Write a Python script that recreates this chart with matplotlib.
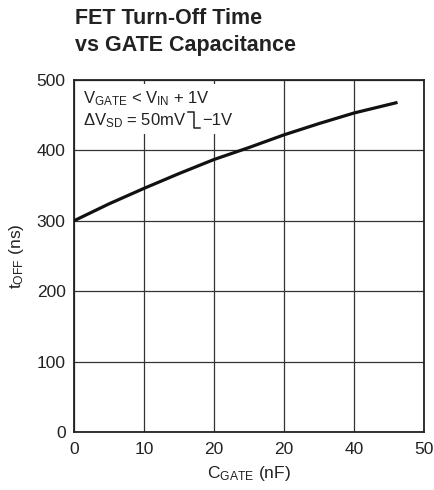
import matplotlib
matplotlib.use('Agg')
import matplotlib.pyplot as plt
from matplotlib.patches import Rectangle

plt.rcParams['font.family'] = ['Liberation Sans', 'DejaVu Sans']
plt.rcParams['mathtext.fontset'] = 'custom'
plt.rcParams['mathtext.rm'] = 'Liberation Sans'
plt.rcParams['mathtext.it'] = 'Liberation Sans'

# curve
c_gate = [0, 5, 10, 15, 20, 25, 30, 35, 40, 46.2]
t_off = [300, 324, 346, 367, 387, 404, 422, 438, 453, 468]

x_ticks = [0, 10, 20, 30, 40, 50]
x_labels = ['0', '10', '20', '20', '40', '50']   # the original prints "20" twice
y_ticks = [0, 100, 200, 300, 400, 500]

ink = '#222222'

fig = plt.figure(figsize=(4.35, 4.9), dpi=100)
ax = fig.add_axes([0.170, 0.118, 0.805, 0.719])

ax.plot(c_gate, t_off, color='#111111', lw=2.3, zorder=3, solid_capstyle='butt')

ax.set_xlim(0, 50)
ax.set_ylim(0, 500)
ax.set_xticks(x_ticks)
ax.set_xticklabels(x_labels)
ax.set_yticks(y_ticks)
ax.tick_params(length=0, labelsize=12.5, colors=ink)
ax.tick_params(axis='x', pad=7)
ax.tick_params(axis='y', pad=6)
ax.grid(True, color='#333333', lw=0.9)
ax.set_axisbelow(True)
for s in ax.spines.values():
    s.set_linewidth(1.3)
    s.set_color(ink)

# white patch behind the conditions text (breaks the gridlines)
box = Rectangle((0.006, 0.847), 0.43, 0.142, transform=ax.transAxes,
                facecolor='white', edgecolor='none', zorder=1)
ax.add_patch(box)
ax.text(0.026, 0.948, r'V$_{\mathregular{GATE}}$ < V$_{\mathregular{IN}}$ + 1V',
        transform=ax.transAxes, fontsize=12, va='center', ha='left', zorder=4,
        color=ink)
t2 = ax.text(0.026, 0.885, r'$\Delta$V$_{\mathregular{SD}}$ = 50mV',
             transform=ax.transAxes, fontsize=12, va='center', ha='left', zorder=4,
             color=ink)

# place the falling-step pulse and "-1V" right after line 2
fig.canvas.draw()
rend = fig.canvas.get_renderer()
bb = t2.get_window_extent(rend)
inv = ax.transAxes.inverted()
x_end, _ = inv.transform((bb.x1, bb.y0))
w = 1 / ax.bbox.width  # one pixel in axes fraction
xs = [x_end + 2 * w, x_end + 8 * w, x_end + 8 * w, x_end + 14 * w]
ax.plot(xs, [0.910, 0.910, 0.864, 0.864], transform=ax.transAxes,
        color=ink, lw=1.1, zorder=4)
t3 = ax.text(x_end + 16 * w, 0.885, '\u22121V', transform=ax.transAxes, fontsize=12,
             va='center', ha='left', zorder=4, color=ink)
bb3 = t3.get_window_extent(rend)
box.set_width(inv.transform((bb3.x1, bb3.y0))[0] + 6 * w - 0.006)

ax.set_xlabel(r'C$_{\mathregular{GATE}}$ (nF)', fontsize=12.5, color=ink, labelpad=5)
ax.set_ylabel(r't$_{\mathregular{OFF}}$ (ns)', fontsize=12.5, color=ink, labelpad=8)

fig.text(0.172, 0.962, 'FET Turn-Off Time', fontsize=15.5, fontweight='bold',
         ha='left', va='center', color=ink)
fig.text(0.172, 0.907, 'vs GATE Capacitance', fontsize=15.5, fontweight='bold',
         ha='left', va='center', color=ink)

plt.savefig('out.png', dpi=100)
plt.close('all')
